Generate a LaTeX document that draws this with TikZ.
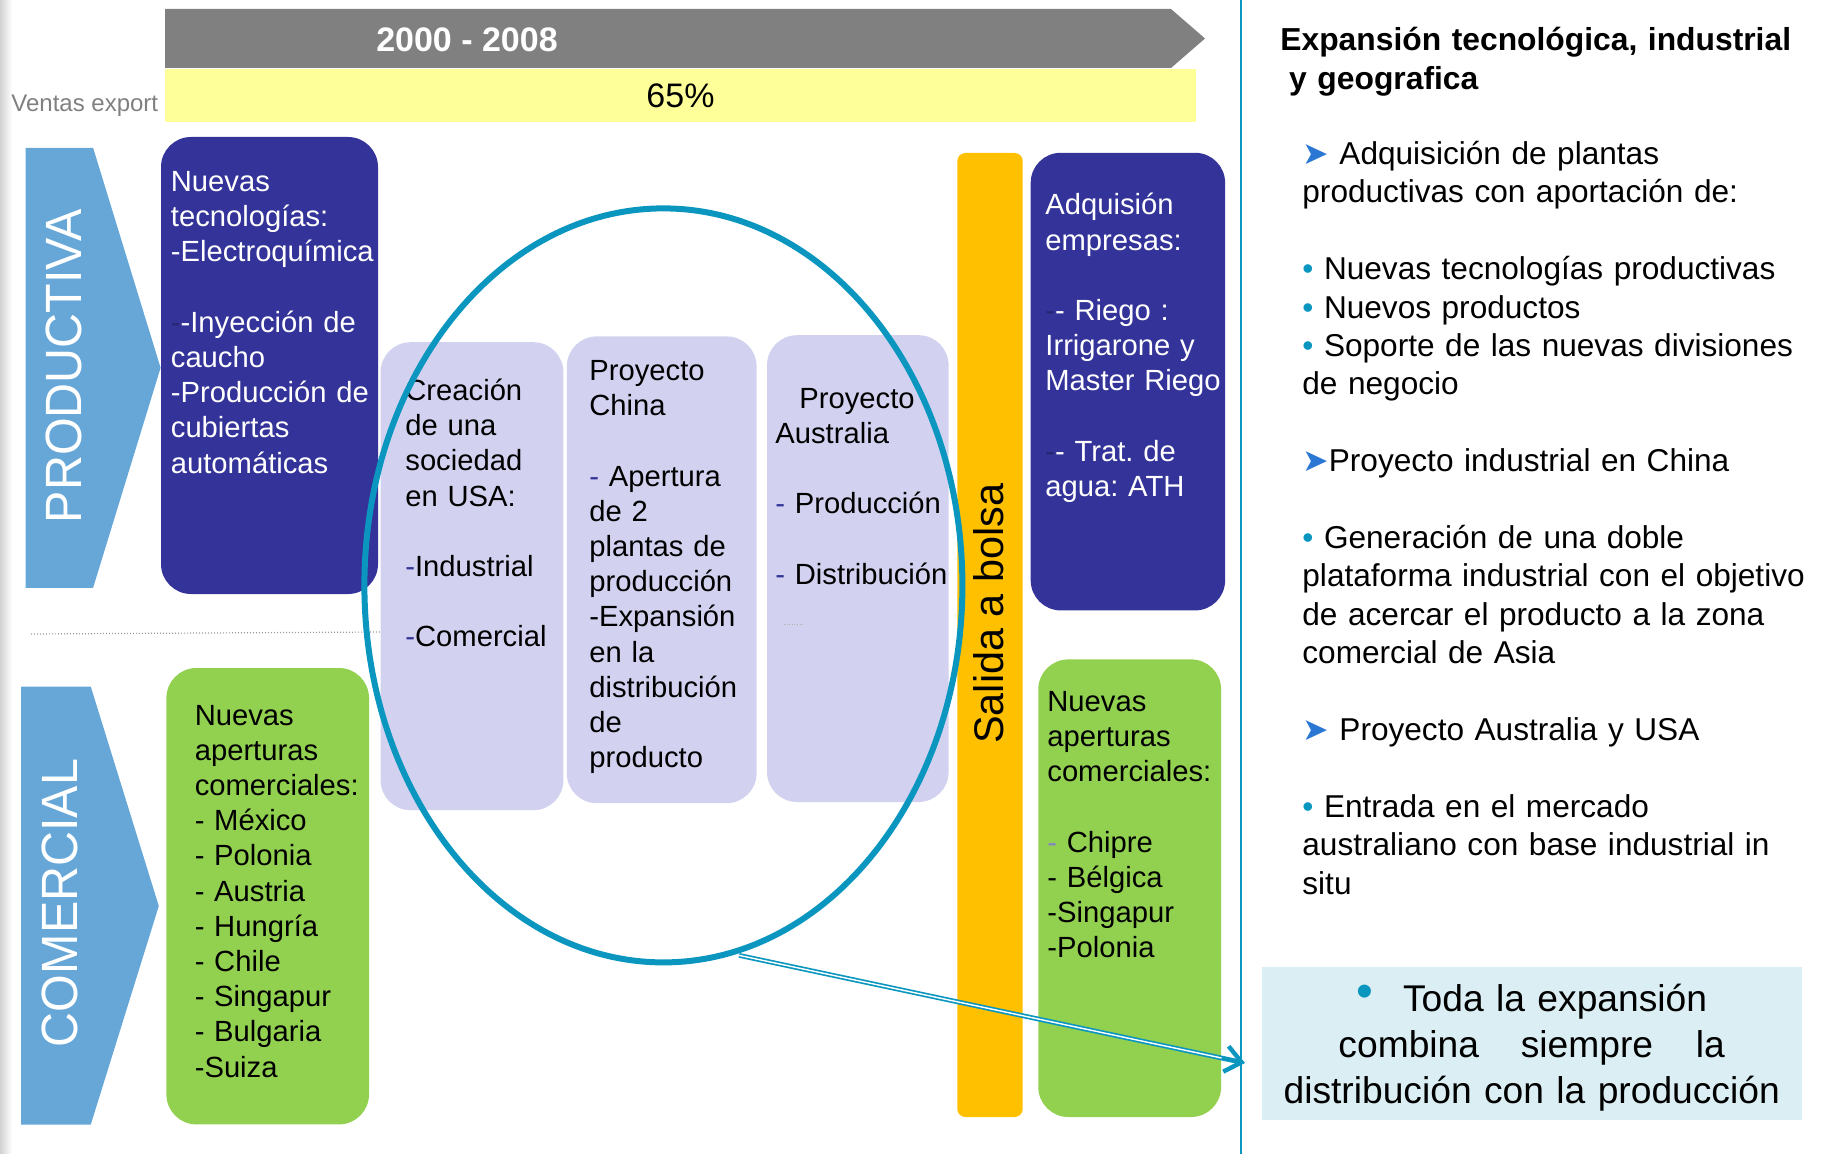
\documentclass[tikz,border=0pt]{standalone}
\usepackage{fontspec}
\setmainfont{Liberation Sans}
\newfontfamily\narrowfont[FakeStretch=0.95]{Liberation Sans}
\newfontfamily\symfont{DejaVu Sans}
\usetikzlibrary{arrows.meta,positioning,shapes.geometric}
\definecolor{bannergray}{HTML}{808080}
\definecolor{exportyellow}{HTML}{FFFF99}
\definecolor{chevronblue}{HTML}{66A7D8}
\definecolor{navyblue}{HTML}{333399}
\definecolor{leafgreen}{HTML}{92D050}
\definecolor{lavender}{HTML}{D2D2F0}
\definecolor{ringblue}{HTML}{0A96BF}
\definecolor{bolsaorange}{HTML}{FFC000}
\definecolor{notecyan}{HTML}{DAEEF3}
\definecolor{arrowblue}{HTML}{2A78D4}
\newcommand{\BDASH}{{\color{navyblue}-}}
\newcommand{\HDASH}{{\color{navyblue!75!black}-}}
\newcommand{\ARW}{{\color{arrowblue}\symfont ➤}}
\newcommand{\DOT}{{\color{ringblue}•}}
\frenchspacing

\begin{document}
\begin{tikzpicture}[x=0.5pt,y=-0.5pt,
  panel/.style={rounded corners=15pt,inner sep=0pt,outer sep=0pt},
  boxtext/.style={anchor=base west,align=left,inner sep=0pt,text width=140pt,
    font=\fontsize{14.6}{17.6}\selectfont},
  sidetext/.style={anchor=base west,align=left,inner sep=0pt,text width=270pt,
    font=\fontsize{15.8}{19.2}\selectfont}]
\useasboundingbox (0,0) rectangle (1825,1154);
% left edge shadow of the slide
\shade[left color=black!18,right color=white] (0,0) rectangle (12,1154);

% period banner and export share
\fill[bannergray] (165,9) -- (1171,9) -- (1205,38.5) -- (1171,68) -- (165,68) -- cycle;
\node[anchor=base,white,inner sep=0pt,font=\fontsize{17}{20}\selectfont\bfseries] (period) at (467,51.5) {2000 - 2008};
\node[fill=exportyellow,minimum width=515.5pt,minimum height=26.5pt,inner sep=0pt,
  font=\fontsize{17}{20}\selectfont] (exportbar) at (680.5,96) {65\%};
\node[anchor=base west,inner sep=0pt,text=bannergray,font=\fontsize{12}{14}\selectfont] (exportlabel) at (11,112) {Ventas export};

% row chevrons
\fill[chevronblue] (25.6,147.8) -- (93.1,147.8) -- (160.6,367.8) -- (93.1,587.8) -- (25.6,587.8) -- cycle;
\node[rotate=90,white,inner sep=0pt,font=\narrowfont\fontsize{25.5}{30}\selectfont] (prodlabel) at (64,366) {PRODUCTIVA};
\fill[chevronblue] (21,686.7) -- (90.8,686.7) -- (158.8,906) -- (90.8,1124.5) -- (21,1124.5) -- cycle;
\node[rotate=90,white,inner sep=0pt,font=\narrowfont\fontsize{25.5}{30}\selectfont] (comlabel) at (60,903) {COMERCIAL};
\draw[black!40,line width=0.6pt,dash pattern=on 0.5pt off 1pt] (31,634) -- (380,632);

% first column
\node[panel,fill=navyblue,minimum width=108.5pt,minimum height=228.5pt] (techbox) at (269.5,365.5) {};
\node[boxtext,white] (techtext) at (170.5,191.5) {Nuevas\\tecnologías:\\-Electroquímica\\[17.6pt]\HDASH-Inyección de\\caucho\\-Producción de\\cubiertas\\automáticas};
\node[panel,fill=leafgreen,minimum width=101.3pt,minimum height=228.2pt] (combox) at (267.7,896.2) {};
\node[boxtext] (comtext) at (194.4,725) {Nuevas\\aperturas\\comerciales:\\- México\\- Polonia\\- Austria\\- Hungría\\- Chile\\- Singapur\\- Bulgaria\\-Suiza};

% projects
\node[panel,fill=lavender,minimum width=91.4pt,minimum height=234pt] (usabox) at (472,576.2) {};
\node[boxtext] (usatext) at (405,400.5) {Creación\\de una\\sociedad\\en USA:\\[17.6pt]\BDASH Industrial\\[17.6pt]\BDASH Comercial};
\node[panel,fill=lavender,minimum width=94.9pt,minimum height=233.4pt] (chinabox) at (661.7,569.8) {};
\node[boxtext] (chinatext) at (589,380.5) {Proyecto\\China\\[17.6pt]\BDASH{} Apertura\\de 2\\plantas de\\producción\\-Expansión\\en la\\distribución\\de\\producto};
\node[panel,fill=lavender,minimum width=90.8pt,minimum height=233.4pt] (ausbox) at (857.8,568.6) {};
\node[boxtext] (austext) at (775,408.3) {\hspace*{12pt}Proyecto\\Australia\\[17.6pt]\BDASH{} Producción\\[17.6pt]\BDASH{} Distribución};
\draw[black!30,line width=0.5pt,dash pattern=on 0.5pt off 0.8pt] (784,624) -- (803,624);

% stock market listing
\node[panel,rounded corners=4pt,fill=bolsaorange,minimum width=32.7pt,minimum height=482pt] (bolsabar) at (990,635) {};
\node[rotate=90,inner sep=0pt,font=\fontsize{20.7}{24}\selectfont] (bolsalabel) at (988.4,613.6) {Salida a bolsa};

% last column
\node[panel,fill=navyblue,minimum width=97.2pt,minimum height=228.8pt] (buybox) at (1127.9,381.6) {};
\node[boxtext,white] (buytext) at (1045,215) {Adquisión\\empresas:\\[17.6pt]\HDASH- Riego :\\Irrigarone y\\Master Riego\\[17.6pt]\HDASH- Trat. de\\agua: ATH};
\node[panel,fill=leafgreen,minimum width=91.4pt,minimum height=228.8pt] (combox2) at (1129.7,888.2) {};
\node[boxtext] (comtext2) at (1047,711.5) {Nuevas\\aperturas\\comerciales:\\[17.6pt]{\color{navyblue!60}-} Chipre\\- Bélgica\\-Singapur\\-Polonia};

% ring round the projects
\node[ellipse,draw=ringblue,line width=3pt,minimum width=299pt,minimum height=377pt,inner sep=0pt] (ring) at (663.4,585.4) {};

% right panel
\draw[ringblue,line width=1pt] (1241,0) -- (1241,1154);
\node[sidetext,font=\fontsize{15.9}{19.2}\selectfont\bfseries] (sidetitle) at (1280,51) {Expansión tecnológica, industrial\\\hspace*{4.4pt}y geografica};
\node[sidetext] (sidenotes) at (1302,164.5) {\ARW{} Adquisición de plantas\\productivas con aportación de:\\[19.2pt]\DOT{} Nuevas tecnologías productivas\\\DOT{} Nuevos productos\\\DOT{} Soporte de las nuevas divisiones\\de negocio\\[19.2pt]\ARW Proyecto industrial en China\\[19.2pt]\DOT{} Generación de una doble\\plataforma industrial con el objetivo\\de acercar el producto a la zona\\comercial de Asia\\[19.2pt]\ARW{} Proyecto Australia y USA\\[19.2pt]\DOT{} Entrada en el mercado\\australiano con base industrial in\\situ};
\node[fill=notecyan,minimum width=270pt,minimum height=76.25pt,inner sep=0pt] (notebox) at (1531.7,1043.5) {};
\node[anchor=base,align=center,inner sep=0pt,text width=270pt,font=\fontsize{18.6}{22.9}\selectfont] (notetext) at (1531.7,1011.7) {\raisebox{2pt}{\color{ringblue}\fontsize{24}{24}\selectfont•}\hspace{15pt}Toda la expansión\\combina\hspace{20.9pt}siempre\hspace{21.4pt}la\\distribución con la producción};

% hollow arrow towards the conclusion
\coordinate (arrowend) at (1245,1063);
\draw[ringblue,line width=2.4pt,shorten <=2pt,
  -{Straight Barb[length=8pt,width=13pt,line width=2.2pt]}] (ring.-79) -- (arrowend);
\draw[white,line width=0.7pt,shorten <=2pt,shorten >=12pt] (ring.-79) -- (arrowend);
\end{tikzpicture}
\end{document}
